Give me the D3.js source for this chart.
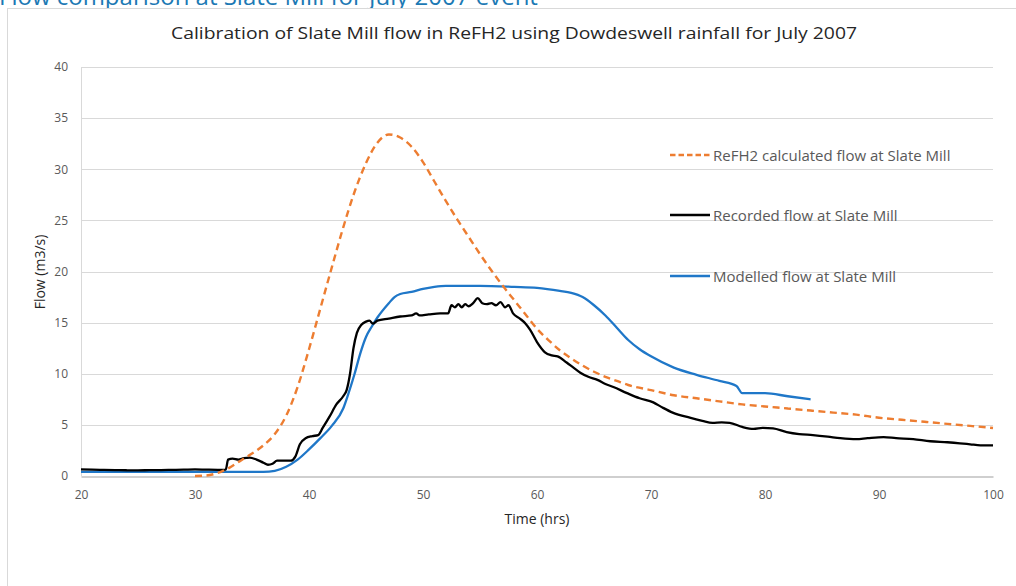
<!DOCTYPE html>
<html>
<head>
<meta charset="utf-8">
<script src="https://cdn.jsdelivr.net/npm/d3@7"></script>
<style>
  body { margin: 0; background: #fff; }
  text { font-family: "Open Sans", "Noto Sans", sans-serif; }
</style>
</head>
<body>
<div id="chart"></div>
<script>
// Data (hours, m3/s)
const refh2Time = [30, 31, 32, 33, 34, 35, 36, 37, 38, 39, 40, 41, 42, 43, 44, 45, 46, 47, 48, 49, 50, 51, 52, 53, 54, 55, 56, 57, 58, 59, 60, 61, 62, 63, 64, 65, 66, 67, 68, 70, 72, 74, 76, 78, 80, 82, 84, 86, 88, 90, 92, 94, 96, 98, 100]
const refh2Flow = [0, 0.05, 0.3, 0.8, 1.5, 2.2, 3.0, 4.1, 5.9, 8.7, 12.4, 16.4, 20.4, 24.3, 27.8, 30.6, 32.6, 33.4, 33.1, 32.2, 30.7, 28.8, 26.9, 25.1, 23.4, 21.7, 20.1, 18.6, 17.2, 15.8, 14.4, 13.3, 12.3, 11.5, 10.8, 10.2, 9.7, 9.3, 8.9, 8.4, 7.9, 7.6, 7.3, 7.0, 6.8, 6.6, 6.4, 6.2, 6.0, 5.7, 5.5, 5.3, 5.1, 4.9, 4.7]

const recordedTime = [20, 21, 22, 23, 24, 25, 26, 27, 28, 29, 30, 31, 32, 32.7, 32.9, 33.3, 33.8, 34.3, 34.8, 35.4, 36, 36.4, 36.8, 37.2, 37.8, 38.4, 38.8, 39.2, 39.7, 40.3, 40.8, 41.2, 41.8, 42.4, 43, 43.3, 43.6, 43.9, 44.2, 44.6, 45, 45.3, 45.6, 46, 47, 48, 49, 49.4, 49.7, 50.5, 51.5, 52.2, 52.5, 52.8, 53.1, 53.4, 53.7, 54, 54.4, 54.8, 55.2, 55.6, 56, 56.4, 56.8, 57.2, 57.5, 57.9, 58.5, 59, 59.4, 60, 60.7, 61.3, 61.8, 62.6, 63.2, 63.8, 64.5, 65.3, 66, 66.7, 67.9, 69, 70.2, 71, 71.9, 73.4, 74.5, 75.4, 76.2, 76.9, 78, 79, 79.8, 80.7, 81.9, 83, 84.2, 85.5, 86.6, 88, 89, 90.4, 91.5, 93, 94.5, 96, 97.1, 98, 98.9, 100]
const recordedFlow = [0.65, 0.62, 0.6, 0.58, 0.56, 0.55, 0.57, 0.58, 0.6, 0.62, 0.65, 0.62, 0.6, 0.62, 1.6, 1.7, 1.6, 1.75, 1.8, 1.6, 1.3, 1.1, 1.2, 1.5, 1.5, 1.5, 1.9, 3.1, 3.7, 3.9, 4.0, 4.7, 5.8, 7.0, 7.8, 8.4, 10.0, 12.5, 14.0, 14.8, 15.1, 15.2, 14.9, 15.2, 15.4, 15.6, 15.7, 15.9, 15.7, 15.8, 15.9, 15.9, 16.7, 16.5, 16.8, 16.5, 16.8, 16.6, 16.9, 17.4, 16.9, 16.8, 16.9, 16.7, 17.0, 16.5, 16.7, 15.9, 15.4, 14.9, 14.3, 13.1, 12.1, 11.8, 11.7, 11.1, 10.6, 10.1, 9.7, 9.4, 9.0, 8.7, 8.1, 7.6, 7.2, 6.7, 6.2, 5.7, 5.4, 5.2, 5.25, 5.2, 4.8, 4.6, 4.7, 4.65, 4.3, 4.1, 4.0, 3.85, 3.7, 3.6, 3.7, 3.8, 3.7, 3.6, 3.4, 3.3, 3.2, 3.1, 3.0, 3.0]

const modelledTime = [20, 25, 30, 36, 37, 38, 39, 40, 41, 42, 43, 43.5, 44, 44.5, 45, 45.5, 46, 47, 47.5, 48, 49, 50, 51, 52, 55, 58, 60, 62, 63, 64, 65, 66, 67, 68, 69, 70, 72, 74, 76, 77.5, 78, 79, 80, 82, 84]
const modelledFlow = [0.4, 0.4, 0.4, 0.4, 0.5, 0.9, 1.6, 2.6, 3.7, 4.9, 6.6, 8.2, 10.0, 12.0, 13.6, 14.6, 15.5, 16.9, 17.5, 17.8, 18.0, 18.3, 18.5, 18.6, 18.6, 18.5, 18.4, 18.1, 17.9, 17.5, 16.7, 15.7, 14.5, 13.3, 12.4, 11.7, 10.6, 9.9, 9.3, 8.8, 8.1, 8.1, 8.1, 7.8, 7.5]

const xTicks = [20, 30, 40, 50, 60, 70, 80, 90, 100]
const yTicks = [0, 5, 10, 15, 20, 25, 30, 35, 40]

const seriesNames = ['ReFH2 calculated flow at Slate Mill', 'Recorded flow at Slate Mill', 'Modelled flow at Slate Mill']
const seriesColors = ['#ED7D31', '#000000', '#1F77C8']

function draw() {
  const width = 1016
  const height = 586
  const margins = { left: 81, right: 23, top: 67, bottom: 110 }

  const svg = d3.select('#chart')
    .append('svg')
    .attr('width', width)
    .attr('height', height)

  // heading of the page, clipped by the chart box
  svg.append('text')
    .attr('x', -1)
    .attr('y', 5)
    .attr('fill', '#1C79B4')
    .style('font-size', '24px')
    .text('Flow comparison at Slate Mill for July 2007 event')

  svg.append('rect')
    .attr('x', 7.5)
    .attr('y', 8.5)
    .attr('width', width + 10)
    .attr('height', height + 10)
    .attr('fill', '#fff')
    .attr('stroke', '#d9d9d9')

  // Scales
  const x = d3.scaleLinear()
    .domain([20, 100])
    .range([margins.left, width - margins.right])

  const y = d3.scaleLinear()
    .domain([0, 40])
    .range([height - margins.bottom, margins.top])

  // Grid
  svg.append('g')
    .selectAll('line')
    .data(yTicks.filter(d => d > 0))
    .join('line')
    .attr('x1', x(20))
    .attr('x2', x(100))
    .attr('y1', d => Math.round(y(d)) + 0.5)
    .attr('y2', d => Math.round(y(d)) + 0.5)
    .attr('stroke', '#d9d9d9')
    .attr('stroke-width', 1.2)

  // Axes
  const xAxis = d3.axisBottom(x)
    .tickValues(xTicks)
    .tickSize(0)
    .tickPadding(14)

  const xg = svg.append('g')
    .attr('transform', `translate(0, ${Math.round(y(0)) + 0.5})`)
    .call(xAxis)
  xg.select('.domain').attr('stroke', '#bfbfbf').attr('stroke-width', 1.5)
  xg.selectAll('text')
    .attr('fill', '#595959')
    .style('font-size', '12px')
    .style('font-family', '"Open Sans", sans-serif')

  const yAxis = d3.axisLeft(y)
    .tickValues(yTicks)
    .tickSize(0)
    .tickPadding(13)

  const yg = svg.append('g')
    .attr('transform', `translate(${x(20)}, 0)`)
    .call(yAxis)
  yg.select('.domain').attr('stroke', '#d9d9d9').attr('stroke-width', 1)
  yg.selectAll('text')
    .attr('fill', '#595959')
    .style('font-size', '12px')
    .style('font-family', '"Open Sans", sans-serif')

  // Titles
  svg.append('text')
    .attr('x', 514)
    .attr('y', 39)
    .attr('text-anchor', 'middle')
    .attr('fill', '#262626')
    .style('font-size', '17px')
    .attr('textLength', 686)
    .attr('lengthAdjust', 'spacingAndGlyphs')
    .text('Calibration of Slate Mill flow in ReFH2 using Dowdeswell rainfall for July 2007')

  svg.append('text')
    .attr('x', 537)
    .attr('y', 524)
    .attr('text-anchor', 'middle')
    .attr('fill', '#262626')
    .style('font-size', '14px')
    .text('Time (hrs)')

  svg.append('text')
    .attr('transform', 'translate(45, 272) rotate(-90)')
    .attr('text-anchor', 'middle')
    .attr('fill', '#262626')
    .style('font-size', '14px')
    .text('Flow (m3/s)')

  // Lines
  const line = d3.line()
    .x(d => x(d[0]))
    .y(d => y(d[1]))
    .curve(d3.curveMonotoneX)

  const series = [
    { pts: d3.zip(refh2Time, refh2Flow), dash: '7,4.5', w: 2.4 },
    { pts: d3.zip(recordedTime, recordedFlow), dash: null, w: 2.3 },
    { pts: d3.zip(modelledTime, modelledFlow), dash: null, w: 2.3 },
  ]

  // draw modelled first so recorded and dashed sit over it
  const order = [2, 1, 0]
  svg.append('g')
    .selectAll('path')
    .data(order)
    .join('path')
    .attr('d', i => line(series[i].pts))
    .attr('fill', 'none')
    .attr('stroke', i => seriesColors[i])
    .attr('stroke-width', i => series[i].w)
    .attr('stroke-dasharray', i => series[i].dash)
    .attr('stroke-linejoin', 'round')

  // Legend
  const legendY = [155, 215, 276]
  const legend = svg.append('g')
    .selectAll('g')
    .data(seriesNames)
    .join('g')
    .attr('transform', (d, i) => `translate(670, ${legendY[i]})`)

  legend.append('line')
    .attr('x1', 0)
    .attr('x2', 40)
    .attr('stroke', (d, i) => seriesColors[i])
    .attr('stroke-width', 2.4)
    .attr('stroke-dasharray', (d, i) => i === 0 ? '5.5,3' : null)

  legend.append('text')
    .attr('x', 43)
    .attr('y', 5.5)
    .attr('fill', '#595959')
    .style('font-size', '15px')
    .text(d => d)
}

draw()
</script>
</body>
</html>
